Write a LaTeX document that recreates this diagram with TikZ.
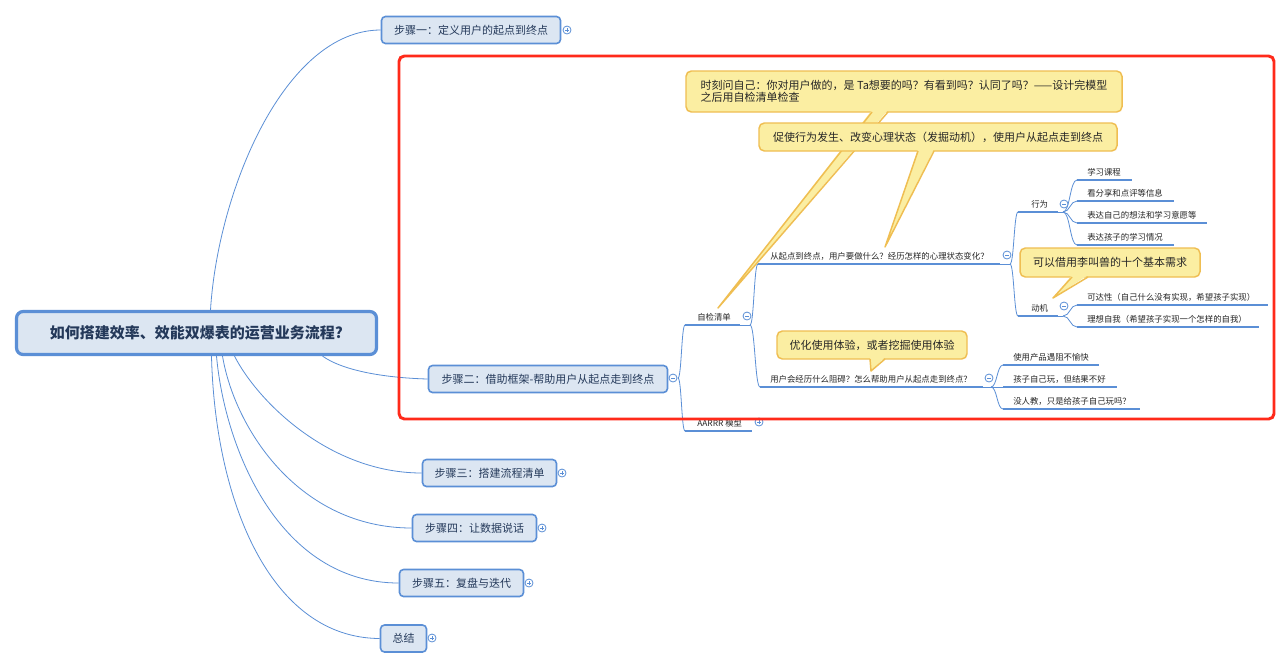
\documentclass[tikz,border=0pt]{standalone}
\usepackage{fontspec}
\setmainfont{Noto Sans CJK SC}
\usetikzlibrary{calc}
\definecolor{bl}{HTML}{5B8FD6}
\definecolor{boxfill}{HTML}{DCE6F2}
\definecolor{boxtext}{HTML}{24395A}
\definecolor{cfill}{HTML}{FBEEA2}
\definecolor{cdraw}{HTML}{EFBE52}
\definecolor{redc}{HTML}{FF2A1A}
\newcommand\mypx[1]{#1*0.75pt}
\newcommand\brc[2]{%
  \path ($(#1)!0.5!(#2)$) coordinate (mm);
  \draw[conn] (#1) .. controls (mm |- #1) and (mm |- #2) .. (#2);}
\begin{document}
\begin{tikzpicture}[x=0.75pt,y=-0.75pt,
  stepbox/.style={draw=bl, fill=boxfill, line width=1.2pt, rounded corners=3pt, text=boxtext,
    font=\fontsize{8.25}{10}\selectfont, inner sep=0pt, minimum height=\mypx{27}},
  centbox/.style={draw=bl, fill=boxfill, line width=2.4pt, rounded corners=5pt, text=boxtext,
    font=\fontsize{11.25}{13}\selectfont\bfseries, minimum width=\mypx{360}, minimum height=\mypx{43}, inner sep=0pt},
  conn/.style={draw=bl, line width=0.6pt},
  uline/.style={draw=bl, line width=1.6pt},
  leaf/.style={anchor=west, inner sep=0pt, font=\fontsize{6.3}{7.5}\selectfont, text=black!85},
  callout/.style={draw=cdraw, fill=cfill, line width=1.1pt, rounded corners=4pt,
    font=\fontsize{8.25}{9.2}\selectfont, text=black!85, inner sep=0pt},
  tog/.style={circle, draw=bl, fill=white, line width=0.6pt, minimum size=\mypx{8}, inner sep=0pt},
  togm/.style={tog, path picture={\draw[bl, line width=0.5pt]
    ($(path picture bounding box.west)!0.25!(path picture bounding box.east)$) --
    ($(path picture bounding box.west)!0.75!(path picture bounding box.east)$);}},
  togp/.style={tog, path picture={\draw[bl, line width=0.5pt]
    ($(path picture bounding box.west)!0.25!(path picture bounding box.east)$) --
    ($(path picture bounding box.west)!0.75!(path picture bounding box.east)$)
    ($(path picture bounding box.south)!0.25!(path picture bounding box.north)$) --
    ($(path picture bounding box.south)!0.75!(path picture bounding box.north)$);}},
  tailfill/.style={fill=cfill},
  tailline/.style={draw=cdraw, line width=1.1pt, line join=round}
]
\useasboundingbox (0,0) rectangle (1280,662);
\fill[white] (0,0) rectangle (1280,662);

% ---------- main nodes ----------
\node[centbox] (c) at (196.5,333) {如何搭建效率、效能双爆表的运营业务流程?};
\node[stepbox, minimum width=\mypx{179}] (s1) at (471,30) {步骤一：定义用户的起点到终点};
\node[stepbox, minimum width=\mypx{239}] (s2) at (548,379) {步骤二：借助框架-帮助用户从起点走到终点};
\node[stepbox, minimum width=\mypx{134}] (s3) at (489.5,473) {步骤三：搭建流程清单};
\node[stepbox, minimum width=\mypx{124}] (s4) at (474.5,528) {步骤四：让数据说话};
\node[stepbox, minimum width=\mypx{124}] (s5) at (461.5,583) {步骤五：复盘与迭代};
\node[stepbox, minimum width=\mypx{46}] (s6) at (403.5,638.5) {总结};

% connectors from central node
\coordinate (c1) at ($(c.north)+(14,0)$);
\coordinate (c2) at ($(c.south)+(126,0)$);
\coordinate (c3) at ($(c.south)+(38,0)$);
\coordinate (c4) at ($(c.south)+(26,0)$);
\coordinate (c5) at ($(c.south)+(20,0)$);
\coordinate (c6) at ($(c.south)+(15,0)$);
\draw[conn] (c1) .. controls (218,190) and (285,30) .. (s1.west);
\draw[conn] (c2) .. controls (345,372) and (390,378) .. (s2.west);
\draw[conn] (c3) .. controls (258,402) and (330,473) .. (s3.west);
\draw[conn] (c4) .. controls (235,430) and (300,528) .. (s4.west);
\draw[conn] (c5) .. controls (225,450) and (280,583) .. (s5.west);
\draw[conn] (c6) .. controls (215,500) and (270,638) .. (s6.west);

% ---------- second level under step two ----------
\coordinate (j2) at (678,378);
\coordinate (uzj) at (685,325);
\coordinate (uaa) at (685,431);
\brc{j2}{uzj}
\brc{j2}{uaa}
\draw[uline] (uzj) -- (740,325);
\draw[uline] (uaa) -- (752,431);
\node[leaf] (zj) at (697,317) {自检清单};
\node[leaf] (aa) at (697,423) {AARRR 模型};

% third level under 自检清单
\coordinate (jzj) at (750,325);
\draw[conn] (740,325) -- (jzj);
\coordinate (uq1) at (758,264);
\coordinate (uq2) at (760,387);
\brc{jzj}{uq1}
\brc{jzj}{uq2}
\draw[uline] (uq1) -- (1000,264);
\draw[uline] (uq2) -- (983,387);
\node[leaf] (q1) at (770,256) {从起点到终点，用户要做什么？经历怎样的心理状态变化？};
\node[leaf] (q2) at (770,379) {用户会经历什么阻碍？怎么帮助用户从起点走到终点？};

% under q1
\coordinate (jq1) at (1010,264);
\draw[conn] (1000,264) -- (jq1);
\coordinate (uxw) at (1018,212);
\coordinate (udj) at (1018,316);
\brc{jq1}{uxw}
\brc{jq1}{udj}
\draw[uline] (uxw) -- (1058,212);
\draw[uline] (udj) -- (1058,316);
\node[leaf] (xw) at (1031,204) {行为};
\node[leaf] (dj) at (1031,308) {动机};

% under 行为
\coordinate (jxw) at (1063,212);
\draw[conn] (1058,212) -- (jxw);
\coordinate (ua1) at (1077,180);
\coordinate (ua2) at (1077,201);
\coordinate (ua3) at (1077,223);
\coordinate (ua4) at (1077,245);
\brc{jxw}{ua1}
\brc{jxw}{ua2}
\brc{jxw}{ua3}
\brc{jxw}{ua4}
\draw[uline] (ua1) -- (1132,180);
\draw[uline] (ua2) -- (1174,201);
\draw[uline] (ua3) -- (1207,223);
\draw[uline] (ua4) -- (1174,245);
\node[leaf] (a1) at (1087,172) {学习课程};
\node[leaf] (a2) at (1087,193) {看分享和点评等信息};
\node[leaf] (a3) at (1087,215.5) {表达自己的想法和学习意愿等};
\node[leaf] (a4) at (1087,237) {表达孩子的学习情况};

% under 动机
\coordinate (jdj) at (1063,316);
\draw[conn] (1058,316) -- (jdj);
\coordinate (ub1) at (1077,305);
\coordinate (ub2) at (1077,327);
\brc{jdj}{ub1}
\brc{jdj}{ub2}
\draw[uline] (ub1) -- (1268,305);
\draw[uline] (ub2) -- (1259,327);
\node[leaf] (b1) at (1087,297) {可达性（自己什么没有实现，希望孩子实现）};
\node[leaf] (b2) at (1087,319) {理想自我（希望孩子实现一个怎样的自我）};

% under q2
\coordinate (jq2) at (991,387);
\draw[conn] (983,387) -- (jq2);
\coordinate (ud1) at (1003,365);
\coordinate (ud2) at (1003,387);
\coordinate (ud3) at (1003,409);
\brc{jq2}{ud1}
\draw[conn] (jq2) -- (ud2);
\brc{jq2}{ud3}
\draw[uline] (ud1) -- (1099,365);
\draw[uline] (ud2) -- (1117,387);
\draw[uline] (ud3) -- (1140,409);
\node[leaf] (d1) at (1013,357) {使用产品遇阻不愉快};
\node[leaf] (d2) at (1013,379) {孩子自己玩，但结果不好};
\node[leaf] (d3) at (1013,401.5) {没人教，只是给孩子自己玩吗？};

% ---------- toggles ----------
\node[togp] (t1) at (567,30) {};
\node[togm] (t2) at (673,378) {};
\node[togp] (t3) at (562,473) {};
\node[togp] (t4) at (542,528) {};
\node[togp] (t5) at (529,583) {};
\node[togp] (t6) at (432,638) {};
\node[togm] (tzj) at (747,316) {};
\node[togp] (taa) at (759,422) {};
\node[togm] (tq1) at (1007,255) {};
\node[togm] (tq2) at (989,378) {};
\node[togm] (txw) at (1064,204) {};
\node[togm] (tdj) at (1064,306) {};

% ---------- callouts ----------
\node[callout, minimum width=\mypx{436}, minimum height=\mypx{41}, align=left] (k1) at (904,91.5)
  {时刻问自己：你对用户做的，是 Ta想要的吗？有看到吗？认同了吗？——设计完模型\\之后用自检清单检查};
\coordinate (k1tip) at (718,308);
\fill[tailfill] (872,110) -- (k1tip) -- (888,110) -- cycle;
\draw[tailline] (872,112) -- (k1tip) -- (888,112);

\node[callout, minimum width=\mypx{358}, minimum height=\mypx{28}] (k2) at (938,137)
  {促使行为发生、改变心理状态（发掘动机），使用户从起点走到终点};
\coordinate (k2tip) at (885,247);
\fill[tailfill] (918,149) -- (k2tip) -- (934,149) -- cycle;
\draw[tailline] (918,151) -- (k2tip) -- (934,151);

\node[callout, minimum width=\mypx{190}, minimum height=\mypx{28}] (k3) at (872,345)
  {优化使用体验，或者挖掘使用体验};
\coordinate (k3tip) at (871,371);
\fill[tailfill] (870,357) -- (k3tip) -- (885,357) -- cycle;
\draw[tailline] (870,359) -- (k3tip) -- (885,359);

\node[callout, minimum width=\mypx{180}, minimum height=\mypx{29}] (k4) at (1110,262.5)
  {可以借用李叫兽的十个基本需求};
\coordinate (k4tip) at (1053,298);
\fill[tailfill] (1072,275) -- (k4tip) -- (1088,275) -- cycle;
\draw[tailline] (1072,277) -- (k4tip) -- (1088,277);

% ---------- red frame ----------
\draw[redc, line width=2.2pt, rounded corners=4pt] (399,56) rectangle (1274,419);
\end{tikzpicture}
\end{document}
